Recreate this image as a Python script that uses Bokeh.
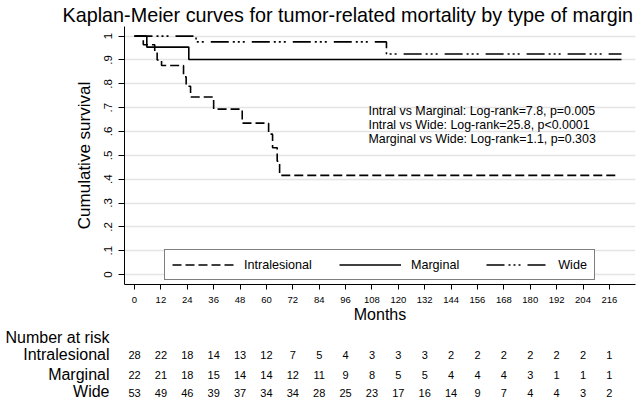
from bokeh.plotting import figure
from bokeh.layouts import column
from bokeh.models import Range1d, FixedTicker, ColumnDataSource, Legend, LegendItem, Title
from bokeh.core.properties import value
from bokeh.embed import file_html
from bokeh.resources import INLINE

# ---------------- data ----------------
title_text = "Kaplan-Meier curves for tumor-related mortality by type of margin"
group_names = ["Intralesional", "Marginal", "Wide"]
risk_header = "Number at risk"

intral_months = [0, 4, 9.2, 10.3, 12.3, 22.3, 23.5, 25.5, 36, 49, 61, 62.8, 64.9, 66, 220]
intral_surv = [1.0, 0.964, 0.929, 0.900, 0.877, 0.830, 0.790, 0.745, 0.694, 0.635,
               0.589, 0.532, 0.475, 0.416, 0.416]

marginal_months = [0, 5.6, 24.7, 221.5]
marginal_surv = [1.0, 0.954, 0.902, 0.902]

wide_months = [0, 28, 114.6, 221.5]
wide_surv = [1.0, 0.976, 0.925, 0.925]

month_ticks = [0, 12, 24, 36, 48, 60, 72, 84, 96, 108, 120, 132, 144, 156, 168,
               180, 192, 204, 216]
surv_ticks = [0, 0.1, 0.2, 0.3, 0.4, 0.5, 0.6, 0.7, 0.8, 0.9, 1.0]
surv_tick_labels = ["0", ".1", ".2", ".3", ".4", ".5", ".6", ".7", ".8", ".9", "1"]

risk_intral = [28, 22, 18, 14, 13, 12, 7, 5, 4, 3, 3, 3, 2, 2, 2, 2, 2, 2, 1]
risk_marginal = [22, 21, 18, 15, 14, 14, 12, 11, 9, 8, 5, 5, 4, 4, 4, 3, 1, 1, 1]
risk_wide = [53, 49, 46, 39, 37, 34, 34, 28, 25, 23, 17, 16, 14, 9, 7, 4, 4, 3, 2]

logrank_lines = ["Intral vs Marginal: Log-rank=7.8, p=0.005",
                 "Intral vs Wide: Log-rank=25.8, p<0.0001",
                 "Marginal vs Wide: Log-rank=1.1, p=0.303"]

# ---------------- layout ----------------
FONT = "Liberation Sans"
W = 640
TOP = 25
LEFT, RIGHT, BOTTOM = 124, 5, 44
FRAME_H = 259
MAIN_H = TOP + FRAME_H + BOTTOM
TABLE_H = 399 - MAIN_H
X0, X1 = -4.548, 227.87
Y0, Y1 = -0.0418, 1.0405
PX_PER_UNIT = FRAME_H / (Y1 - Y0)
PX_PER_MONTH = (W - LEFT - RIGHT) / (X1 - X0)


def data_y(img_y):
    """image pixel row -> survival value in main plot"""
    return Y1 - (img_y - TOP) / PX_PER_UNIT


def data_x(img_x):
    """image pixel column -> months in main plot"""
    return X0 + (img_x - LEFT) / PX_PER_MONTH


# ---------- main plot ----------
p = figure(width=W, height=MAIN_H, x_range=Range1d(X0, X1), y_range=Range1d(Y0, Y1),
           output_backend="svg", toolbar_location=None)
p.outline_line_color = None
p.background_fill_color = "white"
p.border_fill_color = "white"
p.min_border_left = LEFT
p.min_border_right = RIGHT
p.min_border_top = TOP
p.min_border_bottom = BOTTOM

p.title = Title(text=title_text, align="left", offset=-62, standoff=2,
                text_font=FONT, text_font_size="19.8px", text_font_style="normal",
                text_color="black")

p.xaxis.ticker = FixedTicker(ticks=month_ticks)
p.xaxis.major_label_text_font = FONT
p.xaxis.major_label_text_font_size = "9.5px"
p.xaxis.major_label_text_color = "black"
p.xaxis.major_tick_out = 5
p.xaxis.major_tick_in = 0
p.xaxis.minor_tick_line_color = None
p.xaxis.axis_line_color = "black"
p.xaxis.major_tick_line_color = "black"
p.xaxis.major_label_standoff = 7
p.xaxis.axis_label = "Months"
p.xaxis.axis_label_text_font = FONT
p.xaxis.axis_label_text_font_size = "16px"
p.xaxis.axis_label_text_font_style = "normal"
p.xaxis.axis_label_text_color = "black"
p.xaxis.axis_label_standoff = 0

p.yaxis.ticker = FixedTicker(ticks=surv_ticks)
p.yaxis.major_label_overrides = {tk: lb for tk, lb in zip(surv_ticks, surv_tick_labels)}
p.yaxis.major_label_orientation = "vertical"
p.yaxis.major_label_text_font = FONT
p.yaxis.major_label_text_font_size = "11.5px"
p.yaxis.major_label_text_color = "black"
p.yaxis.major_tick_out = 6
p.yaxis.major_tick_in = 0
p.yaxis.minor_tick_line_color = None
p.yaxis.axis_line_color = "black"
p.yaxis.major_tick_line_color = "black"
p.yaxis.major_label_standoff = 6
p.yaxis.axis_label = "Cumulative survival"
p.yaxis.axis_label_text_font = FONT
p.yaxis.axis_label_text_font_size = "17px"
p.yaxis.axis_label_text_font_style = "normal"
p.yaxis.axis_label_text_color = "black"
p.yaxis.axis_label_standoff = 8

p.xgrid.visible = False
p.ygrid.ticker = FixedTicker(ticks=surv_ticks)
p.ygrid.grid_line_color = "#e4e4e4"
p.ygrid.grid_line_width = 1.5

r_intral = p.step(intral_months, intral_surv, mode="after", line_color="black",
                  line_width=1.6, line_dash="9 4")
r_marg = p.step(marginal_months, marginal_surv, mode="after", line_color="black",
                line_width=1.6)
r_wide = p.step(wide_months, wide_surv, mode="after", line_color="black",
                line_width=1.6, line_dash="18 4 2 3 2 3 2 7")

legend = Legend(items=[LegendItem(label=group_names[0], renderers=[r_intral]),
                       LegendItem(label=group_names[1], renderers=[r_marg]),
                       LegendItem(label=group_names[2], renderers=[r_wide])],
                orientation="horizontal", location=(40, 4), margin=0,
                padding=7, spacing=27, glyph_width=62, glyph_height=15,
                label_standoff=10, label_height=15,
                label_text_font=FONT, label_text_font_size="12.6px",
                label_text_color="black",
                border_line_color="black", border_line_width=1,
                background_fill_color="white", background_fill_alpha=1.0)
p.add_layout(legend)

p.text(x=[data_x(368)] * 3, y=[data_y(110), data_y(124), data_y(138)], text=logrank_lines,
       text_font=value(FONT), text_font_size="12.4px", text_baseline="middle",
       text_align="left", text_color="black")

# ---------- number at risk table ----------
row_img_y = [335, 354, 374, 392]          # header + three groups (image rows)
row_y = [y - MAIN_H for y in row_img_y]    # local rows in table figure
tb = figure(width=W, height=TABLE_H, x_range=Range1d(X0, X1),
            y_range=Range1d(TABLE_H, 0), x_axis_type=None,
            output_backend="svg", toolbar_location=None)
tb.outline_line_color = None
tb.background_fill_color = "white"
tb.border_fill_color = "white"
tb.min_border_left = LEFT
tb.min_border_right = RIGHT
tb.min_border_top = 0
tb.min_border_bottom = 0
tb.grid.visible = False
tb.yaxis.ticker = FixedTicker(ticks=row_y)
tb.yaxis.major_label_overrides = {yy: lb for yy, lb in zip(row_y, [risk_header] + group_names)}
tb.yaxis.axis_line_color = None
tb.yaxis.major_tick_line_color = None
tb.yaxis.minor_tick_line_color = None
tb.yaxis.major_tick_out = 0
tb.yaxis.major_tick_in = 0
tb.yaxis.major_label_standoff = 15
tb.yaxis.major_label_text_font = FONT
tb.yaxis.major_label_text_font_size = "16px"
tb.yaxis.major_label_text_color = "black"

for risks, yy in zip([risk_intral, risk_marginal, risk_wide], row_y[1:]):
    src = ColumnDataSource(dict(x=month_ticks, y=[yy] * len(month_ticks),
                                t=[str(v) for v in risks]))
    tb.text(x="x", y="y", text="t", source=src, text_font=value(FONT),
            text_font_size="11px", text_baseline="middle", text_align="center",
            text_color="black")

layout = column(p, tb, spacing=0)
open("out.html", "w").write(file_html(layout, INLINE))
